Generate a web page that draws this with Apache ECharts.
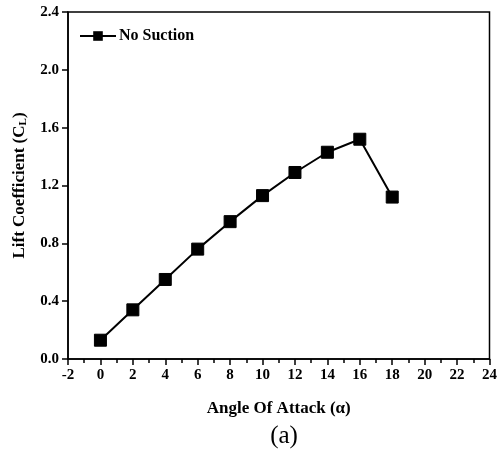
<!DOCTYPE html>
<html>
<head>
<meta charset="utf-8">
<script src="https://cdn.jsdelivr.net/npm/echarts@6/dist/echarts.min.js"></script>
<style>
  html, body { margin: 0; padding: 0; background: #fff; }
  #chart { width: 500px; height: 453px; }
</style>
</head>
<body>
<div id="chart"></div>
<script>
// angle of attack (deg) and lift coefficient
const angles = [0, 2, 4, 6, 8, 10, 12, 14, 16, 18];
const liftNoSuction = [0.13, 0.34, 0.55, 0.76, 0.95, 1.13, 1.29, 1.43, 1.52, 1.12];
const seriesName = 'No Suction';

const font = 'Liberation Serif';
const chart = echarts.init(document.getElementById('chart'));

const option = {
    backgroundColor: '#fff',
    animation: false,
    title: {
        text: '(a)',
        left: 279,
        top: 419,
        textAlign: 'center',
        textStyle: { fontFamily: font, fontSize: 25, fontWeight: 'normal', color: '#000' }
    },
    legend: {
        data: [seriesName],
        left: 74,
        top: 23,
        itemWidth: 36,
        itemHeight: 12,
        textStyle: { fontFamily: font, fontSize: 16, fontWeight: 'bold', color: '#000', padding: [0, 0, 0, -2] }
    },
    grid: {
        left: 68,
        right: 10,
        top: 12,
        bottom: 94,
        show: true,
        borderColor: '#000',
        borderWidth: 1.5
    },
    xAxis: {
        type: 'value',
        min: -2,
        max: 24,
        interval: 2,
        name: 'Angle Of Attack (α)',
        nameLocation: 'middle',
        nameGap: 41,
        nameTextStyle: { fontFamily: font, fontSize: 17, fontWeight: 'bold', color: '#000' },
        axisLine: { show: true, onZero: false, lineStyle: { color: '#000', width: 1.5 } },
        axisTick: { show: true, inside: false, length: 6, lineStyle: { color: '#000', width: 1.5 } },
        minorTick: { show: true, splitNumber: 2, length: 4, lineStyle: { color: '#000', width: 1.5 } },
        axisLabel: { fontFamily: font, fontSize: 15, fontWeight: 'bold', color: '#000', margin: 9 },
        splitLine: { show: false }
    },
    yAxis: {
        type: 'value',
        min: 0,
        max: 2.4,
        interval: 0.4,
        name: 'Lift Coefficient (C{sub|L})',
        nameLocation: 'middle',
        nameGap: 39,
        nameTextStyle: {
            fontFamily: font, fontSize: 17, fontWeight: 'bold', color: '#000',
            rich: {
                sub: { fontFamily: font, fontSize: 11, fontWeight: 'bold', color: '#000', verticalAlign: 'bottom', padding: [7, 0, 0, 0] }
            }
        },
        axisLine: { show: true, onZero: false, lineStyle: { color: '#000', width: 1.5 } },
        axisTick: { show: true, inside: false, length: 6, lineStyle: { color: '#000', width: 1.5 } },
        axisLabel: {
            fontFamily: font, fontSize: 15, fontWeight: 'bold', color: '#000', margin: 9,
            formatter: v => v.toFixed(1)
        },
        splitLine: { show: false }
    },
    series: [{
        name: seriesName,
        type: 'line',
        data: angles.map((a, i) => [a, liftNoSuction[i]]),
        symbol: 'rect',
        symbolSize: 12,
        lineStyle: { color: '#000', width: 2 },
        itemStyle: { color: '#000', borderColor: '#000' }
    }]
};

chart.setOption(option);
</script>
</body>
</html>
